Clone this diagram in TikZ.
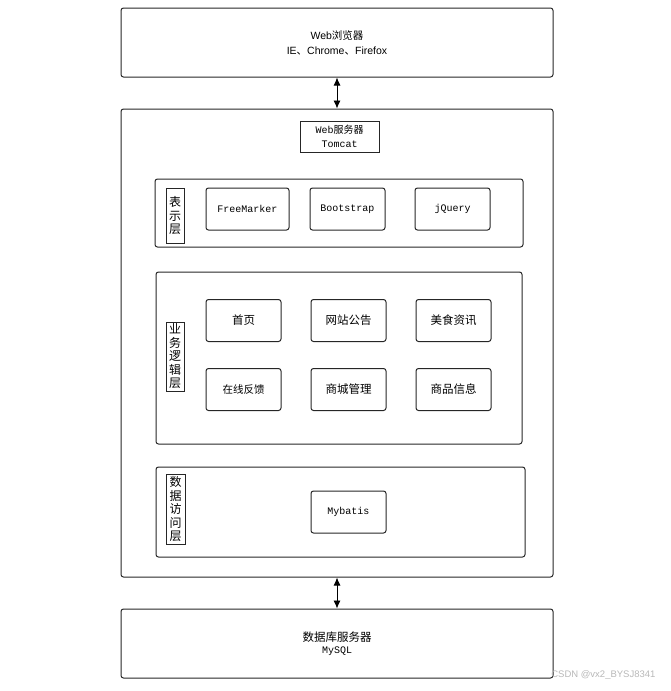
\documentclass[tikz,border=0pt]{standalone}
\usepackage{fontspec}
\setmainfont{Liberation Sans}
\newfontfamily\cjk{Noto Sans CJK SC}
\newfontfamily\mono{Liberation Mono}
\usetikzlibrary{arrows.meta}
\tikzset{
  frame/.style={draw=black!85, line width=1pt, rounded corners=2.5pt, inner sep=0pt},
  sharpbox/.style={draw=black!85, line width=1pt, inner sep=0pt},
  item/.style={frame, minimum width=75pt, minimum height=42pt},
  vlabel/.style={sharpbox, align=center, font=\cjk\fontsize{12}{13.5}\selectfont},
  conn/.style={line width=0.9pt, {Latex[length=8pt,width=7pt]}-{Latex[length=8pt,width=7pt]}},
  cjktext/.style={font=\cjk\fontsize{11.5}{14}\selectfont},
  monotext/.style={font=\mono\fontsize{10}{12}\selectfont}
}
\begin{document}
\begin{tikzpicture}[x=1pt,y=-1pt]
\useasboundingbox (0,0) rectangle (671,691);
% top browser
\node[frame, minimum width=432pt, minimum height=69pt, align=center, font=\fontsize{10.5}{15}\selectfont] (browser) at (337,42.5)
  {Web{\cjk 浏览器}\\IE{\cjk 、}Chrome{\cjk 、}Firefox};
% server
\node[frame, minimum width=432pt, minimum height=468pt] (server) at (337,343) {};
\node[sharpbox, minimum width=79pt, minimum height=31pt, align=center, font=\fontsize{10}{13.5}\selectfont] (tomcat) at (339.5,136.5)
  {{\mono Web}{\cjk 服务器}\\{\mono Tomcat}};
% presentation layer
\node[frame, minimum width=368pt, minimum height=68pt] (pres) at (339,213) {};
\node[vlabel, minimum width=18pt, minimum height=55pt] (preslbl) at (175,215.5) {表\\示\\层};
\node[item, minimum width=83pt, monotext] (fm) at (247.5,209) {FreeMarker};
\node[item, monotext] (bs) at (347.5,209) {Bootstrap};
\node[item, monotext] (jq) at (452.5,209) {jQuery};
% business layer
\node[frame, minimum width=366pt, minimum height=172pt] (biz) at (339,358) {};
\node[vlabel, minimum width=18pt, minimum height=69pt] (bizlbl) at (175,356.5) {业\\务\\逻\\辑\\层};
\node[item, cjktext] (home) at (243.5,320.5) {首页};
\node[item, cjktext] (notice) at (348.5,320.5) {网站公告};
\node[item, cjktext] (food) at (453.5,320.5) {美食资讯};
\node[item, cjktext, font=\cjk\fontsize{10.5}{12}\selectfont] (feedback) at (243.5,389.5) {在线反馈};
\node[item, cjktext] (mall) at (348.5,389.5) {商城管理};
\node[item, cjktext] (goods) at (453.5,389.5) {商品信息};
% data layer
\node[frame, minimum width=369pt, minimum height=90pt] (data) at (340.5,512) {};
\node[vlabel, minimum width=19pt, minimum height=70pt] (datalbl) at (175.5,509) {数\\据\\访\\问\\层};
\node[item, monotext] (mybatis) at (348.5,512) {Mybatis};
% database
\node[frame, minimum width=432pt, minimum height=69pt, align=center] (db) at (337,643.5)
  {{\cjk\fontsize{11.5}{15}\selectfont 数据库服务器}\\{\mono\fontsize{10}{12}\selectfont MySQL}};
% connectors
\draw[conn] (browser.south) -- (server.north);
\draw[conn] (server.south) -- (db.north);
% watermark
\node[font=\fontsize{9.5}{11}\selectfont, text=black!28, anchor=east] (wm) at (659,675) {CSDN @vx2\_BYSJ8341};
\end{tikzpicture}
\end{document}
